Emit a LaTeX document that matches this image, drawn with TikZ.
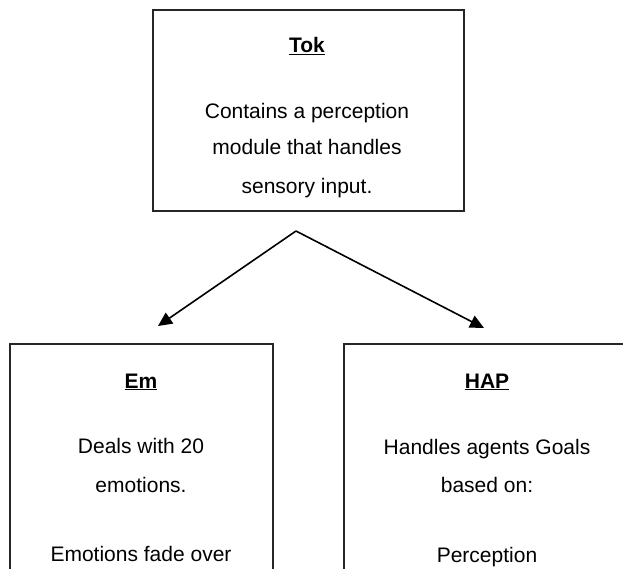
\documentclass[tikz,border=0pt]{standalone}
\usepackage{fontspec}
\setmainfont{Liberation Sans}
\usetikzlibrary{arrows.meta}
\begin{document}
\begin{tikzpicture}[x=1pt,y=-1pt,
  box/.style={draw=black!85,line width=1.8pt,rectangle,inner sep=0pt},
  txt/.style={inner sep=0pt,anchor=center,font=\fontsize{21}{25}\selectfont},
  conn/.style={line width=1.6pt,-{Triangle[length=14pt,width=13pt]}}]
\useasboundingbox (0,0) rectangle (623,569);
\clip (0,0) rectangle (623,569);
\node[box,minimum width=311pt,minimum height=201pt] (tok) at (308.5,110.5) {};
\node[box,minimum width=263pt,minimum height=300pt] (em) at (141.5,494) {};
\node[box,minimum width=286pt,minimum height=300pt] (hap) at (487,494) {};
\node[txt] (toktitle) at (307,46) {\underline{\textbf{Tok}}};
\node[txt] (tok1) at (307,114) {\strut Contains a perception};
\node[txt] (tok2) at (307,150) {\strut module that handles};
\node[txt] (tok3) at (307,189) {\strut sensory input.};
\node[txt] (emtitle) at (141,382) {\underline{\textbf{Em}}};
\node[txt] (em1) at (141,448) {\strut Deals with 20};
\node[txt] (em2) at (141,487) {\strut emotions.};
\node[txt] (em3) at (141,556) {\strut Emotions fade over};
\node[txt] (haptitle) at (487,382) {\underline{\textbf{HAP}}};
\node[txt] (hap1) at (487,449) {\strut Handles agents Goals};
\node[txt] (hap2) at (487,487) {\strut based on:};
\node[txt] (hap3) at (487,557) {\strut Perception};
\coordinate (apex) at (296,231);
\coordinate (emtip) at (158,326);
\coordinate (haptip) at (484,328);
\draw[conn] (apex) -- (emtip);
\draw[conn] (apex) -- (haptip);
\end{tikzpicture}
\end{document}
